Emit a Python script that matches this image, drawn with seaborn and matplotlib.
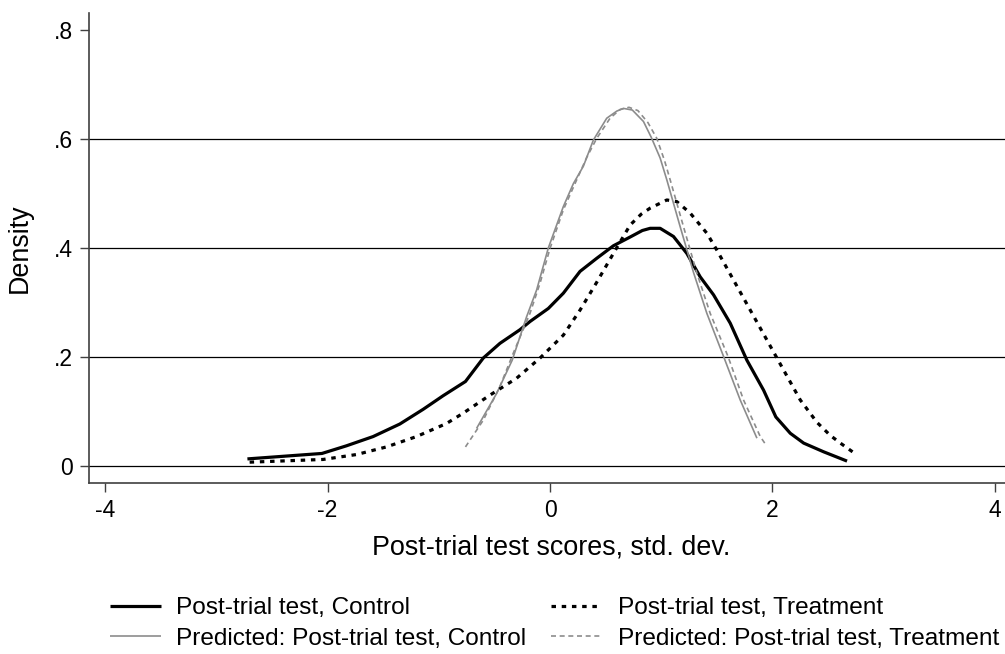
import numpy as np
import pandas as pd
import matplotlib
matplotlib.use("Agg")
import matplotlib.pyplot as plt
import seaborn as sns

# Kernel density of post-trial scores, control group
ctrl_x = [-2.72, -2.05, -1.83, -1.59, -1.35, -1.14, -0.96, -0.76, -0.60, -0.45,
          -0.27, -0.18, -0.015, 0.12, 0.27, 0.42, 0.57, 0.72, 0.83, 0.90, 0.99,
          1.11, 1.23, 1.35, 1.47, 1.62, 1.77, 1.92, 2.03, 2.16, 2.28, 2.46, 2.67]
ctrl_y = [0.013, 0.023, 0.037, 0.054, 0.077, 0.104, 0.129, 0.155, 0.198, 0.225,
          0.250, 0.265, 0.289, 0.317, 0.357, 0.381, 0.404, 0.420, 0.432, 0.436, 0.436,
          0.421, 0.390, 0.347, 0.314, 0.262, 0.194, 0.139, 0.090, 0.060, 0.042, 0.026, 0.009]

# Kernel density of post-trial scores, treatment group
treat_x = [-2.70, -2.04, -1.74, -1.47, -1.20, -0.93, -0.78, -0.54, -0.30, -0.09,
           0.12, 0.27, 0.42, 0.57, 0.72, 0.82, 0.90, 1.05, 1.14, 1.26, 1.41, 1.50,
           1.65, 1.80, 1.95, 2.10, 2.25, 2.40, 2.52, 2.61, 2.74]
treat_y = [0.007, 0.012, 0.021, 0.035, 0.054, 0.078, 0.097, 0.130, 0.161, 0.198,
           0.240, 0.286, 0.337, 0.390, 0.442, 0.462, 0.473, 0.488, 0.485, 0.464, 0.427, 0.396,
           0.341, 0.286, 0.231, 0.176, 0.121, 0.080, 0.056, 0.042, 0.023]

# Predicted densities
pred_ctrl_x = [-0.66, -0.48, -0.34, -0.21, -0.12, -0.015, 0.12, 0.21, 0.30, 0.39, 0.51,
               0.60, 0.66, 0.74, 0.84, 0.91, 0.99, 1.05, 1.17, 1.29, 1.41, 1.56, 1.71, 1.86]
pred_ctrl_y = [0.069, 0.133, 0.194, 0.274, 0.323, 0.400, 0.476, 0.518, 0.550, 0.598, 0.638,
               0.651, 0.656, 0.653, 0.632, 0.603, 0.565, 0.525, 0.439, 0.355, 0.280, 0.201, 0.121, 0.051]

pred_treat_x = [-0.76, -0.60, -0.45, -0.33, -0.18, -0.09, 0.0, 0.12, 0.24, 0.33, 0.42,
                0.54, 0.63, 0.71, 0.79, 0.88, 0.96, 1.03, 1.09, 1.20, 1.32, 1.44, 1.60, 1.74, 1.89, 1.93]
pred_treat_y = [0.035, 0.084, 0.146, 0.207, 0.280, 0.335, 0.399, 0.470, 0.525, 0.566, 0.601,
                0.638, 0.654, 0.658, 0.652, 0.630, 0.601, 0.560, 0.518, 0.439, 0.354, 0.280, 0.201, 0.121, 0.054, 0.042]

labels = ["Post-trial test, Control",
          "Predicted: Post-trial test, Control",
          "Post-trial test, Treatment",
          "Predicted: Post-trial test, Treatment"]

x_ticks = [-4, -2, 0, 2, 4]
y_ticks = [0, 0.2, 0.4, 0.6, 0.8]
y_ticklabels = ["0", ".2", ".4", ".6", ".8"]

sns.set_style("white")
plt.rcParams["font.family"] = ["Liberation Sans", "DejaVu Sans"]
plt.rcParams["text.color"] = "black"
plt.rcParams["axes.labelcolor"] = "black"
plt.rcParams["xtick.color"] = "black"
plt.rcParams["ytick.color"] = "black"

fig = plt.figure(figsize=(10.05, 6.54), dpi=100)
ax = fig.add_axes([89 / 1005, 1 - 483 / 654, 1 - 89 / 1005, (483 - 13) / 654])

# horizontal grid lines
for yv in [0, 0.2, 0.4, 0.6]:
    ax.axhline(yv, color="black", lw=0.9, zorder=1)

series = [
    (ctrl_x, ctrl_y, dict(color="black", lw=2.3, linestyle="-")),
    (pred_ctrl_x, pred_ctrl_y, dict(color="#8c8c8c", lw=1.2, linestyle="-")),
    (treat_x, treat_y, dict(color="black", lw=2.3, linestyle=(0, (1.4, 1.8)))),
    (pred_treat_x, pred_treat_y, dict(color="#8c8c8c", lw=1.2, linestyle=(0, (3.0, 2.2)))),
]
for (xs, ys, style), lab in zip(series, labels):
    df = pd.DataFrame({"x": xs, "y": ys})
    sns.lineplot(data=df, x="x", y="y", ax=ax, sort=False, label=lab,
                 solid_capstyle="butt", dash_capstyle="butt", solid_joinstyle="round",
                 zorder=3, **style)

ax.set_xlim(-4.144, 4.09)
ax.set_ylim(-0.0312, 0.831)
ax.set_xticks(x_ticks)
ax.set_xticklabels([str(t) for t in x_ticks])
ax.set_yticks(y_ticks)
ax.set_yticklabels(y_ticklabels)

for side in ["top", "right"]:
    ax.spines[side].set_visible(False)
for side in ["left", "bottom"]:
    ax.spines[side].set_color("#404040")
    ax.spines[side].set_linewidth(1.2)

ax.tick_params(axis="both", which="major", direction="out", length=6.5, width=1.0,
               color="#404040", labelcolor="black", labelsize=16.5, pad=5,
               bottom=True, left=True)

ax.set_xlabel("Post-trial test scores, std. dev.", fontsize=19.4, va="center", color="black")
ax.xaxis.set_label_coords((551.5 - 89) / 916, (483 - 547) / 470)
ax.set_ylabel("Density", fontsize=19.4, va="center", ha="center", color="black")
ax.yaxis.set_label_coords((20 - 89) / 916, 0.5)

handles, labs = ax.get_legend_handles_labels()
ax.get_legend().remove()
leg = fig.legend(handles, labs, ncol=2, loc="upper left", bbox_to_anchor=(110 / 1005, 1 - 597 / 654),
                 frameon=False, fontsize=17.6, handlelength=2.1, handletextpad=0.62,
                 columnspacing=1.0, labelspacing=0.36, borderaxespad=0, borderpad=0)
for t in leg.get_texts():
    t.set_color("black")

fig.savefig("out.png", dpi=100)
